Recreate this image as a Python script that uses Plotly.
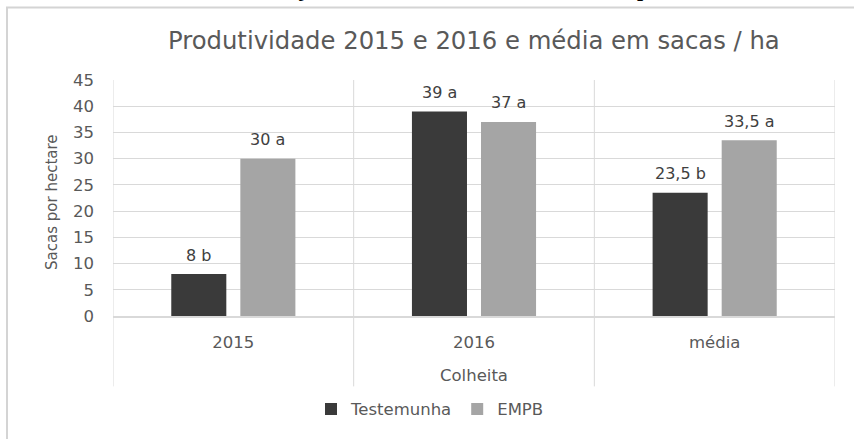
import plotly.graph_objects as go

categories = ["2015", "2016", "média"]
testemunha = [8, 39, 23.5]
empb = [30, 37, 33.5]
labels_test = ["8 b", "39 a", "23,5 b"]
labels_empb = ["30 a", "37 a", "33,5 a"]
y_ticks = [0, 5, 10, 15, 20, 25, 30, 35, 40, 45]

W, H = 854, 439
L, R, T, B = 113, 19, 80, 121
pw = W - L - R
ph = H - T - B

def px_x(px):
    return (px - L) / pw

def px_y(py):
    return (H - B - py) / ph

FONT = "DejaVu Sans"
GRID = "#d9d9d9"
TXT = "#595959"

xpos = list(range(len(categories)))

fig = go.Figure()
fig.add_trace(go.Bar(x=xpos, y=testemunha, name="Testemunha",
                     marker=dict(color="#3a3a3a", line=dict(width=0))))
fig.add_trace(go.Bar(x=xpos, y=empb, name="EMPB",
                     marker=dict(color="#a5a5a5", line=dict(width=0))))

annotations = []
for xi, v, t in zip(xpos, testemunha, labels_test):
    annotations.append(dict(x=xi, y=v, xref="x", yref="y", text=t, showarrow=False,
                            xshift=-34.5, yshift=19, yanchor="middle",
                            font=dict(family=FONT, size=16, color="#404040")))
for xi, v, t in zip(xpos, empb, labels_empb):
    annotations.append(dict(x=xi, y=v, xref="x", yref="y", text=t, showarrow=False,
                            xshift=34.5, yshift=19, yanchor="middle",
                            font=dict(family=FONT, size=16, color="#404040")))

# chart title
annotations.append(dict(x=0.5, y=px_y(40), xref="paper", yref="paper",
                        text="Produtividade 2015 e 2016 e média em sacas / ha",
                        showarrow=False, xanchor="center", yanchor="middle",
                        font=dict(family=FONT, size=24.3, color=TXT)))
# cut-off caption at top (only its lower edge is visible in the reference)
annotations.append(dict(x=px_x(11), y=px_y(2), xref="paper", yref="paper",
                        text="<b>Gráfico 3. Produtividade de soja em 2015 e 2016 e média em sacas por hectare</b>",
                        showarrow=False, xanchor="left", yanchor="bottom",
                        font=dict(family="Liberation Serif", size=22, color="#000000")))
# axis titles
annotations.append(dict(x=0.5, y=px_y(378), xref="paper", yref="paper",
                        text="Colheita", showarrow=False, xanchor="center", yanchor="middle",
                        font=dict(family=FONT, size=16.5, color=TXT)))
annotations.append(dict(x=px_x(52), y=px_y(203), xref="paper", yref="paper",
                        text="Sacas por hectare", showarrow=False, textangle=-90,
                        xanchor="center", yanchor="middle",
                        font=dict(family=FONT, size=15, color=TXT)))

shapes = []
# category separators extending below axis
for xb in [-0.5, 0.5, 1.5, 2.5]:
    shapes.append(dict(type="line", xref="x", yref="paper", x0=xb, x1=xb,
                       y0=px_y(389), y1=1, line=dict(color=GRID, width=1)))
# outer chart frame
shapes.append(dict(type="rect", xref="paper", yref="paper",
                   x0=px_x(7), x1=px_x(1000), y0=px_y(7), y1=px_y(700),
                   line=dict(color="#d4d4d4", width=2), fillcolor="rgba(0,0,0,0)", layer="below"))

fig.update_layout(
    width=W, height=H,
    margin=dict(l=L, r=R, t=T, b=B, pad=0),
    paper_bgcolor="white", plot_bgcolor="white",
    barmode="group", bargap=0.426, bargroupgap=0.203,
    showlegend=True,
    legend=dict(orientation="h", x=px_x(430), y=px_y(412), xanchor="center", yanchor="middle",
                font=dict(family=FONT, size=16.5, color=TXT), traceorder="normal",
                itemwidth=30, tracegroupgap=0),
    annotations=annotations,
    shapes=shapes,
    xaxis=dict(range=[-0.5, 2.5], tickvals=xpos, ticktext=categories,
               showgrid=False, showline=True, linecolor=GRID, linewidth=2,
               ticks="", tickfont=dict(family=FONT, size=16.5, color=TXT),
               ticklabelstandoff=10, zeroline=False, fixedrange=True),
    yaxis=dict(range=[0, 45], tickvals=y_ticks, showgrid=True, gridcolor=GRID, gridwidth=1,
               zeroline=False, showline=False, ticks="",
               tickfont=dict(family=FONT, size=16.5, color=TXT), ticklabelstandoff=18,
               fixedrange=True),
    font=dict(family=FONT),
)

fig.write_html("out.html")
